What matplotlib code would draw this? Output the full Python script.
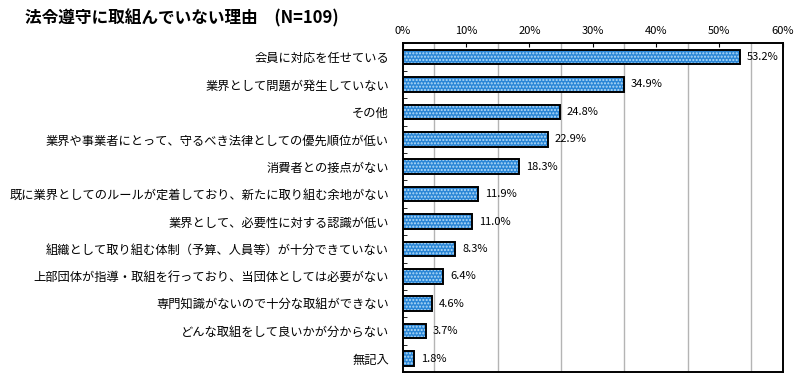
import numpy as np
import matplotlib.pyplot as plt
from matplotlib.ticker import MultipleLocator, FixedLocator

plt.rcParams['font.family'] = ['Noto Sans CJK JP', 'DejaVu Sans']

title = '法令遵守に取組んでいない理由　(N=109)'
reasons = ['会員に対応を任せている',
           '業界として問題が発生していない',
           'その他',
           '業界や事業者にとって、守るべき法律としての優先順位が低い',
           '消費者との接点がない',
           '既に業界としてのルールが定着しており、新たに取り組む余地がない',
           '業界として、必要性に対する認識が低い',
           '組織として取り組む体制（予算、人員等）が十分できていない',
           '上部団体が指導・取組を行っており、当団体としては必要がない',
           '専門知識がないので十分な取組ができない',
           'どんな取組をして良いかが分からない',
           '無記入']
pct = [53.2, 34.9, 24.8, 22.9, 18.3, 11.9, 11.0, 8.3, 6.4, 4.6, 3.7, 1.8]

fig = plt.figure(figsize=(8, 3.79), dpi=100)
ax = fig.add_axes([0.5034, 0.0177, 0.475, 0.868])

y = np.arange(len(reasons))
# dotted blue fill, then black outline on top
ax.barh(y, pct, height=0.53, color='#2a86d6', edgecolor='#b5dcf7', hatch='.....', linewidth=0, zorder=2)
ax.barh(y, pct, height=0.53, fill=False, edgecolor='black', linewidth=1.4, zorder=3)

for yi, v in zip(y, pct):
    ax.text(v + 1.1, yi, f'{v:.1f}%', va='center', ha='left', fontsize=8)

ax.set_xlim(0, 60)
ax.set_ylim(len(reasons) - 0.5, -0.5)
ax.xaxis.set_major_locator(MultipleLocator(10))
ax.xaxis.set_major_formatter(lambda v, p: f'{v:.0f}%')
for g in np.arange(5, 60, 10):
    ax.axvline(g, color='#b4b4b4', linewidth=1, zorder=1)
ax.xaxis.tick_top()
ax.tick_params(axis='x', direction='in', length=3, pad=5, labelsize=8)

ax.set_yticks(y)
ax.set_yticklabels(reasons, fontsize=8.8)
ax.yaxis.set_minor_locator(FixedLocator(np.arange(-0.5, len(reasons), 1)))
ax.tick_params(axis='y', which='major', length=0, pad=10)
ax.tick_params(axis='y', which='minor', direction='in', length=3)

for s in ax.spines.values():
    s.set_linewidth(1.4)

fig.text(0.031, 0.952, title, fontsize=12, fontweight='bold', va='center', ha='left')

fig.savefig('out.png', dpi=100)
